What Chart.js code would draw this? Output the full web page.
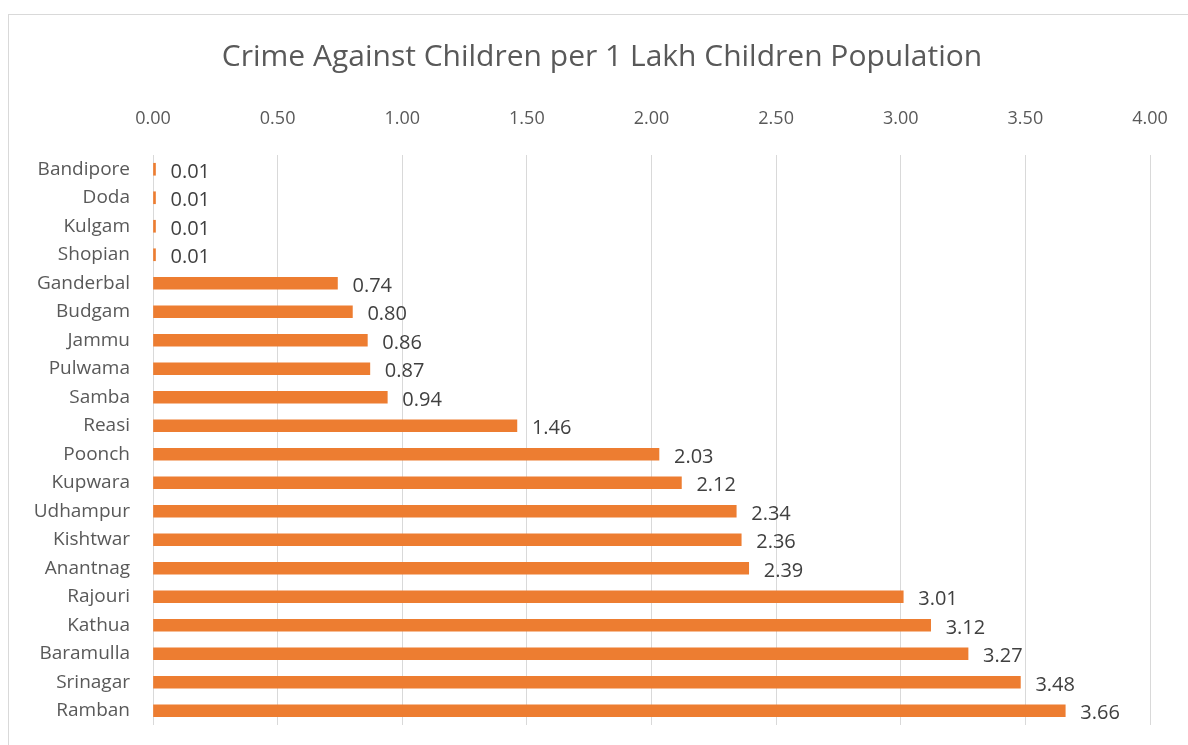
<!DOCTYPE html>
<html>
<head>
<meta charset="utf-8">
<script src="https://cdn.jsdelivr.net/npm/chart.js@4"></script>
<style>
  html, body { margin: 0; padding: 0; background: #fff; }
  #wrap { position: relative; width: 1188px; height: 745px; overflow: hidden; }
  #frame { position: absolute; left: 8px; top: 14px; width: 1200px; height: 760px; border: 1.5px solid #d9d9d9; box-sizing: border-box; }
  canvas { position: absolute; left: 0; top: 0; }
</style>
</head>
<body>
<div id="wrap">
  <div id="frame"></div>
  <canvas id="myChart" width="1188" height="745"></canvas>
</div>
<script>
// data
const districts = ['Bandipore', 'Doda', 'Kulgam', 'Shopian', 'Ganderbal', 'Budgam', 'Jammu', 'Pulwama', 'Samba', 'Reasi',
    'Poonch', 'Kupwara', 'Udhampur', 'Kishtwar', 'Anantnag', 'Rajouri', 'Kathua', 'Baramulla', 'Srinagar', 'Ramban'];
const crimeRate = [0.01, 0.01, 0.01, 0.01, 0.74, 0.80, 0.86, 0.87, 0.94, 1.46,
    2.03, 2.12, 2.34, 2.36, 2.39, 3.01, 3.12, 3.27, 3.48, 3.66];
const xTicks = [0, 0.5, 1, 1.5, 2, 2.5, 3, 3.5, 4];
const chartTitle = 'Crime Against Children per 1 Lakh Children Population';

const FONT = "'Open Sans', sans-serif";

// title centred on the outer frame, plus value labels at the end of each bar
const extras = {
    id: 'extras',
    afterDatasetsDraw(chart) {
        const ctx = chart.ctx;
        const meta = chart.getDatasetMeta(0);
        ctx.save();
        ctx.font = "20px " + FONT;
        ctx.fillStyle = '#404040';
        ctx.textAlign = 'left';
        ctx.textBaseline = 'middle';
        meta.data.forEach((bar, i) => {
            ctx.fillText(crimeRate[i].toFixed(2), bar.x + 15, bar.y + 3);
        });

        ctx.font = "30px " + FONT;
        ctx.fillStyle = '#595959';
        ctx.textAlign = 'center';
        ctx.fillText(chartTitle, 602, 57);
        ctx.restore();
    }
};

const data = {
    labels: districts,
    datasets: [{
        label: 'Crime Against Children',
        data: crimeRate,
        backgroundColor: '#ED7D31',
        borderWidth: 0,
        barThickness: 12
    }]
};

const options = {
    indexAxis: 'y',
    responsive: false,
    animation: false,
    layout: { padding: { left: 0, right: 38, top: 91, bottom: 20 } },
    plugins: {
        legend: { display: false },
        tooltip: { enabled: false },
        title: { display: false }
    },
    scales: {
        x: {
            position: 'top',
            min: 0,
            max: 4,
            afterBuildTicks(scale) {
                scale.ticks = xTicks.map(v => ({ value: v }));
            },
            afterFit(scale) {
                scale.height = 64;
                scale.paddingLeft = 0;
                scale.paddingRight = 0;
            },
            ticks: {
                color: '#595959',
                font: { family: FONT, size: 18 },
                padding: 25,
                callback: v => Number(v).toFixed(2)
            },
            grid: { color: '#d9d9d9', drawTicks: false },
            border: { display: false }
        },
        y: {
            afterFit(scale) {
                scale.width = 153;
                scale.paddingTop = 0;
                scale.paddingBottom = 0;
            },
            ticks: {
                color: '#595959',
                font: { family: FONT, size: 19 },
                padding: 23
            },
            grid: { display: false, drawTicks: false },
            border: { display: false }
        }
    }
};

const config = {
    type: 'bar',
    data,
    options,
    plugins: [extras]
};

const myChart = new Chart(document.getElementById('myChart'), config);
</script>
</body>
</html>
